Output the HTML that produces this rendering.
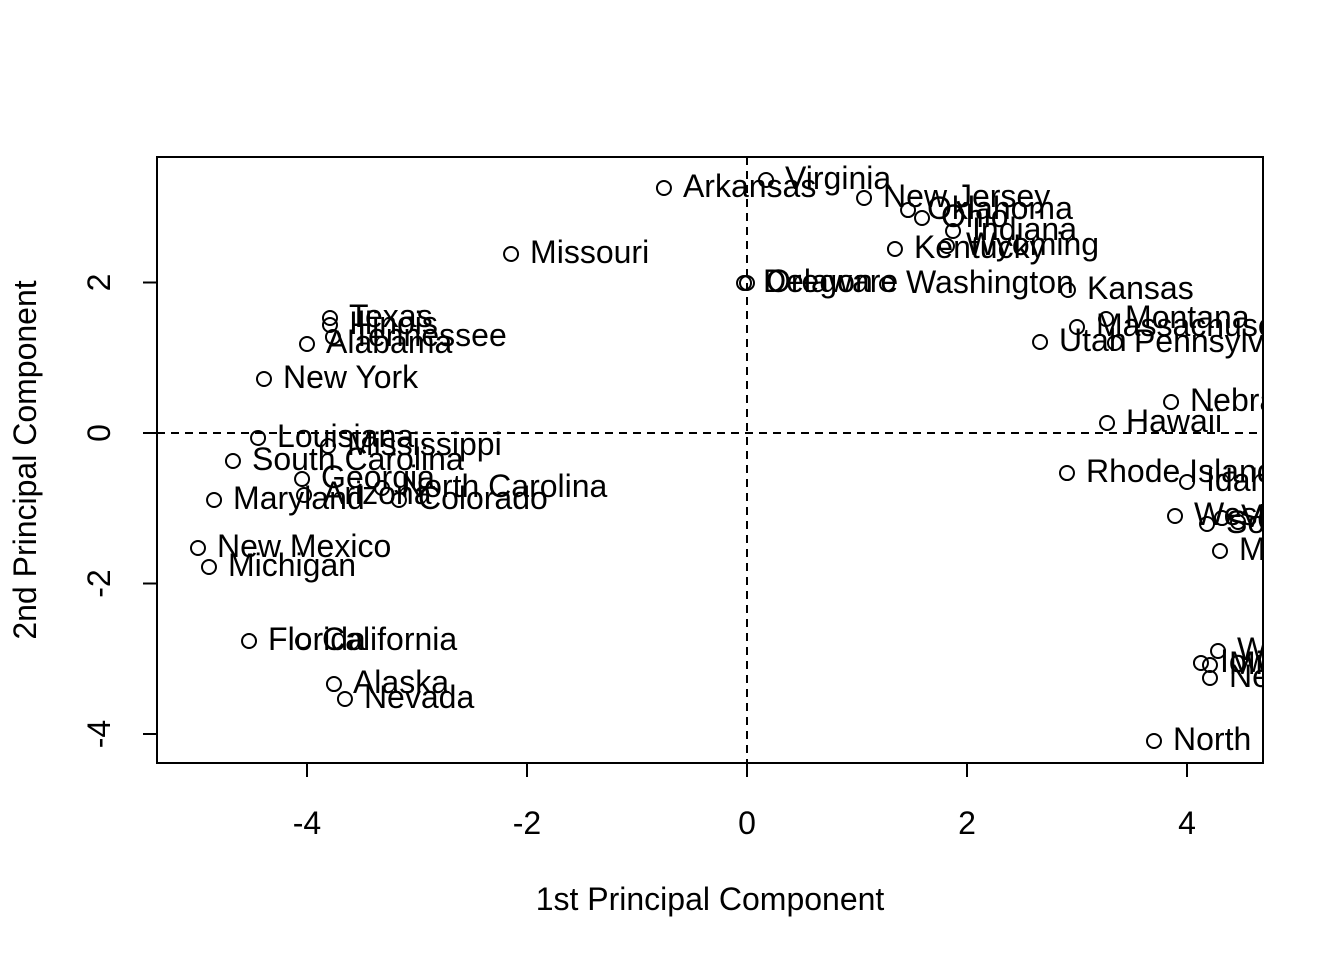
<!DOCTYPE html>
<html><head><meta charset="utf-8"><style>
html,body{margin:0;padding:0;background:#fff;}
svg text{font-family:"Liberation Sans",Arial,sans-serif;fill:#000;}
</style></head><body>
<svg id="chart" width="1344" height="960" viewBox="0 0 1344 960" xmlns="http://www.w3.org/2000/svg">
<defs><clipPath id="plotclip"><rect x="157" y="157" width="1106" height="606"/></clipPath></defs>
<rect x="157" y="157" width="1106" height="606" fill="none" stroke="#000" stroke-width="2"/>
<g id="axes"></g>
<g id="marks" clip-path="url(#plotclip)"></g>
<text x="710" y="910" font-size="32" text-anchor="middle">1st Principal Component</text>
<text transform="translate(36,460) rotate(-90)" font-size="32" text-anchor="middle">2nd Principal Component</text>
</svg>
<script>
const states = ["Arkansas","Virginia","New Jersey","Oklahoma","Ohio","Indiana","Wyoming","Kentucky","Missouri","Delaware","Oregon","Washington","Kansas","Massachusetts","Montana","Utah","Pennsylvania","Nebraska","Hawaii","Rhode Island","Idaho","West Virginia","Connecticut","South Dakota","Vermont","Maine","Wisconsin","Iowa","Minnesota","New Hampshire","North Dakota","Texas","Illinois","Tennessee","Alabama","New York","Louisiana","Mississippi","South Carolina","Georgia","Arizona","North Carolina","Colorado","Maryland","New Mexico","Michigan","Florida","California","Alaska","Nevada"];
const pc1 = [-0.755,0.173,1.064,1.464,1.591,1.873,1.818,1.345,-2.145,-0.027,0,1.273,2.918,3.0,3.264,2.664,3.345,3.855,3.273,2.909,4.0,3.891,4.464,4.182,4.318,4.3,4.282,4.127,4.209,4.209,3.7,-3.791,-3.791,-3.764,-4.0,-4.391,-4.445,-3.809,-4.673,-4.045,-4.027,-3.318,-3.164,-4.845,-4.991,-4.891,-4.527,-4.036,-3.755,-3.655];
const pc2 = [3.256,3.362,3.123,2.963,2.857,2.684,2.485,2.445,2.379,1.993,1.993,1.98,1.9,1.409,1.515,1.209,1.196,0.412,0.133,-0.532,-0.651,-1.103,-1.183,-1.209,-1.13,-1.568,-2.897,-3.056,-3.083,-3.256,-4.093,1.528,1.435,1.276,1.183,0.718,-0.066,-0.173,-0.372,-0.611,-0.824,-0.731,-0.89,-0.89,-1.528,-1.781,-2.764,-2.764,-3.336,-3.535];
const xTicks = [-4,-2,0,2,4];
const yTicks = [-4,-2,0,2];

const NS="http://www.w3.org/2000/svg";
const sx = v => 747 + v*110;
const sy = v => 433 - v*75.25;
function mk(tag, attrs, parent){const e=document.createElementNS(NS,tag);for(const k in attrs)e.setAttribute(k,attrs[k]);parent.appendChild(e);return e;}
const axes=document.getElementById('axes'), marks=document.getElementById('marks');

const xl = mk('line',{x1:sx(xTicks[0]),x2:sx(xTicks[xTicks.length-1]),y1:763,y2:763,stroke:'#000','stroke-width':2},axes);


xTicks.forEach(t=>{
  const l=mk('line',{x1:sx(t),x2:sx(t),y1:763,y2:777,stroke:'#000','stroke-width':2},axes);
  
  
  const tx=mk('text',{x:sx(t),y:834,'font-size':32,'text-anchor':'middle'},axes);
  tx.textContent=String(t);
  
  
});
const yl = mk('line',{x1:157,x2:157,y1:sy(yTicks[0]),y2:sy(yTicks[yTicks.length-1]),stroke:'#000','stroke-width':2},axes);


yTicks.forEach(t=>{
  const l=mk('line',{x1:143,x2:157,y1:sy(t),y2:sy(t),stroke:'#000','stroke-width':2},axes);
  
  
  const tx=mk('text',{transform:`translate(110,${sy(t)}) rotate(-90)`,'font-size':32,'text-anchor':'middle'},axes);
  tx.textContent=String(t);
  
  
});
const h=mk('line',{x1:157,x2:1263,y1:sy(0),y2:sy(0),stroke:'#000','stroke-width':2,'stroke-dasharray':'8,6'},marks);


const v=mk('line',{x1:sx(0),x2:sx(0),y1:157,y2:763,stroke:'#000','stroke-width':2,'stroke-dasharray':'8,6'},marks);



states.forEach((s,i)=>{
  const cx=sx(pc1[i]), cy=sy(pc2[i]);
  const c=mk('circle',{cx:cx,cy:cy,r:7,fill:'none',stroke:'#000','stroke-width':2},marks);
  
  
  const t=mk('text',{x:cx+19,y:cy+9,'font-size':32},marks);
  t.textContent=s;
  
  
});
</script>
</body></html>
